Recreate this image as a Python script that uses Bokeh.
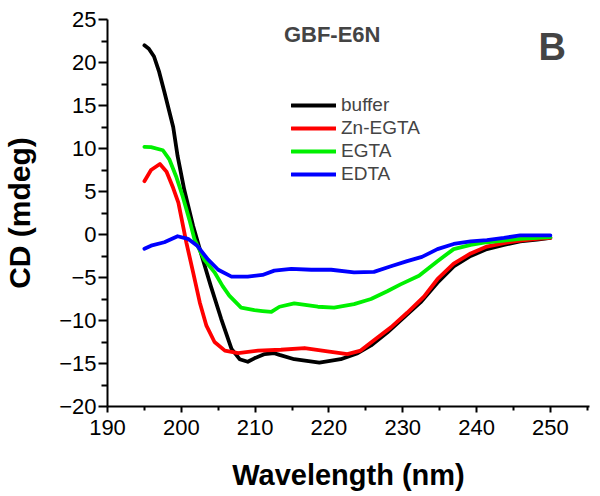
from bokeh.plotting import figure
from bokeh.models import Range1d, FixedTicker, Legend, LegendItem, Label
from bokeh.embed import file_html
from bokeh.resources import INLINE

# ---- data ----
buffer_nm = [195.0, 195.6, 196.3, 197.0, 197.7, 198.9, 199.5, 200.4, 201.6, 202.5, 204.0, 205.4, 206.8,
             207.9, 209.0, 209.9, 211.3, 212.6, 213.3, 215.3, 218.7, 221.6, 223.9, 225.7, 227.9,
             230.2, 232.4, 234.7, 236.9, 239.2, 241.4, 243.7, 245.9, 248.2, 250.0]
buffer_cd = [22.0, 21.6, 20.7, 18.9, 16.6, 12.5, 9.1, 5.2, 1.0, -1.7, -6.0, -9.8, -13.3,
             -14.5, -14.8, -14.4, -13.9, -13.8, -14.0, -14.5, -14.9, -14.5, -13.8, -12.9, -11.4,
             -9.6, -7.9, -5.6, -3.7, -2.5, -1.7, -1.2, -0.8, -0.6, -0.4]

zn_nm = [195.0, 195.9, 197.1, 198.0, 198.9, 199.6, 200.7, 201.6, 202.5, 203.4, 204.5, 205.9,
         207.7, 210.4, 213.5, 216.7, 219.8, 222.5, 224.3, 226.1, 228.4, 230.6, 232.9, 234.7,
         236.9, 239.2, 241.4, 243.7, 245.9, 248.2, 250.0]
zn_cd = [6.2, 7.5, 8.2, 7.3, 5.4, 3.7, -1.0, -4.4, -7.9, -10.6, -12.5, -13.5,
         -13.8, -13.5, -13.4, -13.2, -13.6, -13.9, -13.5, -12.3, -10.8, -9.1, -7.2, -5.2,
         -3.4, -2.2, -1.4, -1.0, -0.7, -0.5, -0.4]

egta_nm = [195.0, 195.9, 197.5, 198.4, 199.3, 200.2, 201.1, 201.8, 203.1, 204.5, 205.6, 206.5,
           208.1, 209.9, 211.0, 212.2, 213.3, 215.3, 218.5, 220.7, 223.4, 225.7, 227.9, 229.7,
           232.2, 234.7, 236.9, 239.2, 241.4, 243.7, 245.9, 248.2, 250.0]
egta_cd = [10.2, 10.15, 9.8, 8.7, 6.75, 4.4, 1.7, -0.6, -2.9, -4.4, -6.0, -7.1,
           -8.5, -8.8, -8.9, -9.0, -8.4, -8.0, -8.4, -8.5, -8.1, -7.5, -6.6, -5.8,
           -4.8, -3.1, -1.7, -1.2, -0.9, -0.7, -0.5, -0.4, -0.3]

edta_nm = [195.0, 195.9, 197.7, 199.5, 200.9, 202.2, 203.6, 205.0, 206.8, 209.0, 211.0, 212.6,
           214.9, 217.6, 220.3, 223.4, 226.1, 228.4, 230.6, 232.6, 234.7, 236.9, 239.2, 241.4,
           243.7, 245.9, 248.2, 250.0]
edta_cd = [-1.65, -1.3, -0.9, -0.2, -0.5, -1.35, -2.9, -4.1, -4.9, -4.9, -4.7, -4.2,
           -4.0, -4.1, -4.1, -4.4, -4.35, -3.7, -3.1, -2.6, -1.7, -1.1, -0.8, -0.65,
           -0.4, -0.1, -0.1, -0.1]

series_names = ["buffer", "Zn-EGTA", "EGTA", "EDTA"]
series_colors = ["#000000", "#ff0000", "#00f000", "#0000ff"]

x_ticks = [190, 200, 210, 220, 230, 240, 250]
x_minor = [195, 205, 215, 225, 235, 245, 255]
y_ticks = [-20, -15, -10, -5, 0, 5, 10, 15, 20, 25]
y_minor = [-17.5, -12.5, -7.5, -2.5, 2.5, 7.5, 12.5, 17.5, 22.5]

FONT = "Liberation Sans"

p = figure(width=600, height=496, output_backend="svg", toolbar_location=None,
           x_range=Range1d(190, 255.3), y_range=Range1d(-20, 25),
           min_border_left=106, min_border_right=11, min_border_top=19, min_border_bottom=90)
p.outline_line_color = None
p.xgrid.visible = False
p.ygrid.visible = False
p.background_fill_color = "white"
p.border_fill_color = "white"

for ax, ticks, minor in ((p.xaxis[0], x_ticks, x_minor), (p.yaxis[0], y_ticks, y_minor)):
    ax.ticker = FixedTicker(ticks=ticks, minor_ticks=minor)
    ax.axis_line_width = 2
    ax.major_tick_line_width = 2
    ax.minor_tick_line_width = 2
    ax.major_tick_in = 0
    ax.minor_tick_in = 0
    ax.major_label_text_font = FONT
    ax.major_label_text_font_size = "22px"
    ax.major_label_text_color = "black"
    ax.axis_label_text_font = FONT
    ax.axis_label_text_font_style = "bold"
    ax.axis_label_text_color = "black"

p.xaxis.major_tick_out = 6
p.xaxis.minor_tick_out = 4
p.yaxis.major_tick_out = 9
p.yaxis.minor_tick_out = 6
p.xaxis.major_label_standoff = 7
p.yaxis.major_label_standoff = 2
p.xaxis.axis_label = "Wavelength (nm)"
p.yaxis.axis_label = "CD (mdeg)"
p.xaxis.axis_label_text_font_size = "29px"
p.yaxis.axis_label_text_font_size = "30px"
p.xaxis.axis_label_standoff = 21
p.yaxis.axis_label_standoff = 20

renderers = []
for xs, ys, c in ((buffer_nm, buffer_cd, series_colors[0]), (zn_nm, zn_cd, series_colors[1]),
                  (egta_nm, egta_cd, series_colors[2]), (edta_nm, edta_cd, series_colors[3])):
    renderers.append(p.line(xs, ys, line_color=c, line_width=3.8, line_join="round", line_cap="round"))

legend = Legend(items=[LegendItem(label=n, renderers=[r]) for n, r in zip(series_names, renderers)],
                location=(184, 221), padding=0, margin=0, spacing=1,
                glyph_width=45, glyph_height=20, label_height=20, label_standoff=5,
                label_text_font=FONT, label_text_font_size="19px",
                border_line_color=None, background_fill_alpha=0)
p.add_layout(legend, "center")

p.add_layout(Label(x=213.9, y=23.2, text="GBF-E6N", text_font=FONT, text_font_style="bold",
                   text_font_size="22px", text_baseline="middle", text_align="left"))
p.add_layout(Label(x=248.4, y=21.8, text="B", text_font=FONT, text_font_style="bold",
                   text_font_size="38px", text_baseline="middle", text_align="left"))

open("out.html", "w").write(file_html(p, INLINE))
